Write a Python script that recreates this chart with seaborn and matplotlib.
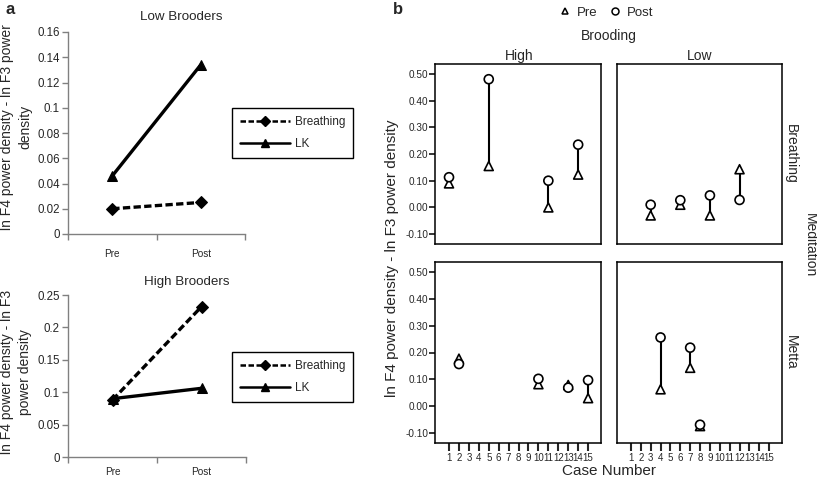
import numpy as np
import pandas as pd
import matplotlib
matplotlib.use("Agg")
import matplotlib.pyplot as plt
from matplotlib.lines import Line2D
from matplotlib.ticker import FuncFormatter
import seaborn as sns

# ---- panel a: group means ----
phases = ["Pre", "Post"]
conditions = ["Breathing", "LK"]
low_breathing = [0.020, 0.025]
low_lk = [0.046, 0.134]
high_breathing = [0.088, 0.232]
high_lk = [0.090, 0.106]

# ---- panel b: single cases (brooding x meditation) ----
hb_cases = [1, 5, 11, 14]
hb_pre = [0.090, 0.155, 0.000, 0.123]
hb_post = [0.113, 0.480, 0.100, 0.235]
lb_cases = [3, 6, 9, 12]
lb_pre = [-0.030, 0.010, -0.030, 0.143]
lb_post = [0.010, 0.027, 0.045, 0.028]
hm_cases = [2, 10, 13, 15]
hm_pre = [0.177, 0.082, 0.079, 0.030]
hm_post = [0.157, 0.102, 0.069, 0.097]
lm_cases = [4, 7, 8]
lm_pre = [0.063, 0.143, -0.074]
lm_post = [0.256, 0.218, -0.069]
case_ticks = list(range(1, 16))
b_yticks = [-0.10, 0.00, 0.10, 0.20, 0.30, 0.40, 0.50]

sns.set_style("white")
plt.rcParams["font.family"] = ["Liberation Sans", "DejaVu Sans"]

W, H = 817, 478
fig = plt.figure(figsize=(W / 100, H / 100), dpi=100)


def px_axes(x0, y0, x1, y1):
    return fig.add_axes([x0 / W, 1 - y1 / H, (x1 - x0) / W, (y1 - y0) / H])


def brooder_frame(breathing, lk):
    return pd.DataFrame({
        "phase": phases * 2,
        "condition": [conditions[0]] * 2 + [conditions[1]] * 2,
        "value": breathing + lk,
    })


def case_frame(cases, pre, post):
    return pd.DataFrame({
        "case": cases * 2,
        "phase": ["Pre"] * len(cases) + ["Post"] * len(cases),
        "value": pre + post,
    })


def draw_brooders(ax, df, ymax, ystep, xpad):
    sns.lineplot(data=df, x="phase", y="value", style="condition",
                 style_order=conditions,
                 markers={"Breathing": "D", "LK": "^"},
                 dashes={"Breathing": (2.2, 1.0), "LK": ""},
                 color="black", linewidth=2.4, markersize=6.5,
                 markeredgecolor="black", sort=False, legend=False, ax=ax)
    ax.set_xlim(-0.5, 1.5)
    ax.set_ylim(0, ymax)
    ax.set_yticks(np.arange(0, ymax + ystep / 2, ystep))
    ax.yaxis.set_major_formatter(FuncFormatter(lambda v, p: "%g" % round(v, 3)))
    ax.set_xticks([0, 1])
    ax.set_xticklabels(phases)
    ax.set_xticks([-0.5, 0.5, 1.5], minor=True)
    ax.tick_params(axis="x", which="major", length=0, pad=xpad, labelsize=7.2)
    ax.tick_params(axis="x", which="minor", length=4, width=1, color="#808080",
                   direction="out", bottom=True)
    ax.tick_params(axis="y", length=4, width=1, color="#808080", direction="out",
                   left=True, labelsize=8.3, pad=2)
    ax.set_xlabel("")
    ax.set_ylabel("")
    for side in ["top", "right"]:
        ax.spines[side].set_visible(False)
    for side in ["left", "bottom"]:
        ax.spines[side].set_color("#808080")
        ax.spines[side].set_linewidth(1)


def a_legend(anchor_y):
    handles = [
        Line2D([], [], color="black", lw=1.8, ls=(0, (2.2, 1.0)), marker="D", ms=5),
        Line2D([], [], color="black", lw=1.8, ls="-", marker="^", ms=6),
    ]
    fig.legend(handles=handles, labels=conditions, loc="upper left",
               bbox_to_anchor=(232 / W, 1 - anchor_y / H), bbox_transform=fig.transFigure,
               borderaxespad=0, fontsize=8.5, handlelength=4.3, labelspacing=0.9,
               borderpad=0.65, handletextpad=0.4, fancybox=False, framealpha=1,
               edgecolor="black")


ax_low = px_axes(68, 32, 245, 234)
draw_brooders(ax_low, brooder_frame(low_breathing, low_lk), 0.16, 0.02, 11)
ax_high = px_axes(68, 295, 246, 457)
draw_brooders(ax_high, brooder_frame(high_breathing, high_lk), 0.25, 0.05, 7.5)
a_legend(108)
a_legend(352)

fig.text(6 / W, 1 - 10 / H, "a", fontsize=12, fontweight="bold", va="center")
fig.text(181 / W, 1 - 17 / H, "Low Brooders", fontsize=9.6, ha="center", va="center")
fig.text(187 / W, 1 - 282 / H, "High Brooders", fontsize=9.6, ha="center", va="center")
fig.text(16 / W, 1 - 127 / H, "ln F4 power density - ln F3 power\ndensity", fontsize=10,
         rotation=90, ha="center", va="center", multialignment="center", linespacing=1.35)
fig.text(16 / W, 1 - 372 / H, "ln F4 power density - ln F3\npower density", fontsize=10,
         rotation=90, ha="center", va="center", multialignment="center", linespacing=1.35)

# ---- panel b ----
facets = [
    (px_axes(435, 64, 601, 244), case_frame(hb_cases, hb_pre, hb_post), False, True),
    (px_axes(617, 64, 782, 244), case_frame(lb_cases, lb_pre, lb_post), False, False),
    (px_axes(435, 262, 601, 443), case_frame(hm_cases, hm_pre, hm_post), True, True),
    (px_axes(617, 262, 782, 443), case_frame(lm_cases, lm_pre, lm_post), True, False),
]

for ax, df, show_x, show_y in facets:
    sns.lineplot(data=df, x="case", y="value", units="case", estimator=None,
                 sort=False, color="black", linewidth=1.5, legend=False, ax=ax)
    sns.scatterplot(data=df, x="case", y="value", style="phase",
                    style_order=["Pre", "Post"], markers={"Pre": "^", "Post": "o"},
                    s=42, color="white", edgecolor="black", linewidth=1.2,
                    legend=False, ax=ax, zorder=3)
    ax.set_xlim(-0.41, 16.3)
    ax.set_ylim(-0.137, 0.537)
    ax.set_xlabel("")
    ax.set_ylabel("")
    for sp in ax.spines.values():
        sp.set_visible(True)
        sp.set_color("black")
        sp.set_linewidth(1.1)
    if show_x:
        ax.set_xticks(case_ticks)
        ax.tick_params(axis="x", bottom=True, direction="out", length=6, width=1.5,
                       labelsize=7, pad=1.5)
    else:
        ax.set_xticks([])
    if show_y:
        ax.set_yticks(b_yticks)
        ax.yaxis.set_major_formatter(FuncFormatter(lambda v, p: "%.2f" % v))
        ax.tick_params(axis="y", left=True, direction="out", length=4, width=1.3,
                       labelsize=7.2, pad=1)
    else:
        ax.set_yticks([])

b_handles = [
    Line2D([], [], ls="", marker="^", mfc="white", mec="black", ms=5, mew=1.1),
    Line2D([], [], ls="", marker="o", mfc="white", mec="black", ms=5, mew=1.1),
]
fig.legend(handles=b_handles, labels=["Pre", "Post"], loc="center",
           bbox_to_anchor=(606 / W, 1 - 13 / H), bbox_transform=fig.transFigure,
           ncol=2, frameon=False, fontsize=9.5, handlelength=1.0, handletextpad=0.4,
           columnspacing=0.8, borderaxespad=0, borderpad=0)

fig.text(393 / W, 1 - 10 / H, "b", fontsize=12, fontweight="bold", va="center")
fig.text(609 / W, 1 - 36 / H, "Brooding", fontsize=10, ha="center", va="center")
fig.text(519 / W, 1 - 56 / H, "High", fontsize=10, ha="center", va="center")
fig.text(700 / W, 1 - 56 / H, "Low", fontsize=10, ha="center", va="center")
fig.text(609 / W, 1 - 471 / H, "Case Number", fontsize=11, ha="center", va="center")
fig.text(392 / W, 1 - 258 / H, "ln F4 power density - ln F3 power density", fontsize=11,
         rotation=90, ha="center", va="center")
fig.text(791 / W, 1 - 154 / H, "Breathing", fontsize=10, rotation=270, ha="center", va="center")
fig.text(791 / W, 1 - 352 / H, "Metta", fontsize=10, rotation=270, ha="center", va="center")
fig.text(810 / W, 1 - 245 / H, "Meditation", fontsize=10, rotation=270, ha="center", va="center")

fig.savefig("out.png", dpi=100)
